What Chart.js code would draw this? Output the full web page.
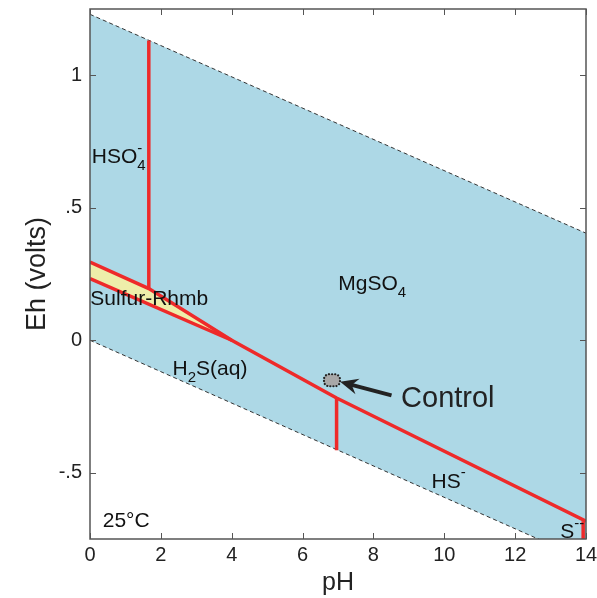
<!DOCTYPE html>
<html>
<head>
<meta charset="utf-8">
<script src="https://cdn.jsdelivr.net/npm/chart.js@4.4.1/dist/chart.umd.min.js"></script>
<style>
  html, body { margin: 0; padding: 0; background: #fff; }
  #wrap { width: 597px; height: 598px; }
</style>
</head>
<body>
<div id="wrap"><canvas id="chart"></canvas></div>
<script>
const FONT = '"Liberation Sans", Arial, Helvetica, sans-serif';
const RED = '#ee2a2a';

const xTicks = [0, 2, 4, 6, 8, 10, 12, 14];
const yTicks = [-0.5, 0, 0.5, 1];

// water stability limits (O2/H2O above, H2O/H2 below)
const waterPH = [0, 14];
const waterTopEh = [1.23, 0.404];
const waterBottomEh = [0, -0.83];

// sulfate reduction boundary: HSO4-/S, MgSO4/S, MgSO4/H2S, MgSO4/HS-
const sulfatePH = [0, 1.66, 4.0, 6.96, 14];
const sulfateEh = [0.295, 0.195, 0.0, -0.218, -0.683];

// lower edge of the rhombic sulfur field (S/H2S)
const sulfurPH = [0, 4.0];
const sulfurEh = [0.233, 0.0];

// HSO4- / MgSO4
const bisulfatePH = [1.66, 1.66];
const bisulfateEh = [1.131, 0.195];

// H2S(aq) / HS-
const sulfidePH = [6.96, 6.96];
const sulfideEh = [-0.218, -0.415];

// HS- / S--
const disulfidePH = [13.92, 13.92];
const disulfideEh = [-0.683, -0.76];

// control sample
const controlPH = [6.83];
const controlEh = [-0.151];

// field names, placed at (pH, Eh) of the text baseline start
const fieldLabels = [
    { parts: ['HSO', { sub: '4', sup: '-' }], pH: 0.05, eh: 0.668 },
    { parts: ['Sulfur-Rhmb'], pH: 0.01, eh: 0.132 },
    { parts: ['MgSO', { sub: '4' }], pH: 7.01, eh: 0.189 },
    { parts: ['H', { sub: '2' }, 'S(aq)'], pH: 2.33, eh: -0.132 },
    { parts: ['HS', { sup: '-' }], pH: 9.64, eh: -0.557 },
    { parts: ['S', { sup: '--' }], pH: 13.27, eh: -0.747 },
    { parts: ['25°C'], pH: 0.36, eh: -0.706 }
];

const pts = (xs, ys) => xs.map((x, i) => ({ x: x, y: ys[i] }));

// sulfur field outline: upper boundary out to the triple point, back along the lower one
const wedgePH = sulfatePH.slice(0, 3).concat(sulfurPH.slice(0, 1));
const wedgeEh = sulfateEh.slice(0, 3).concat(sulfurEh.slice(0, 1));

function redLine(label, xs, ys) {
    return { label: label, data: pts(xs, ys), borderColor: RED, borderWidth: 3.5, fill: false, order: 1 };
}

function drawRich(ctx, parts, x, y, size) {
    let cx = x;
    parts.forEach(p => {
        if (typeof p === 'string') {
            ctx.font = `${size}px ${FONT}`;
            ctx.fillText(p, cx, y);
            cx += ctx.measureText(p).width;
        } else {
            const small = Math.round(size * 0.72);
            ctx.font = `${small}px ${FONT}`;
            let w = 0;
            if (p.sub) {
                ctx.fillText(p.sub, cx, y + size * 0.33);
                w = ctx.measureText(p.sub).width;
            }
            if (p.sup) {
                ctx.fillText(p.sup, cx, y - size * 0.5);
                w = Math.max(w, ctx.measureText(p.sup).width);
            }
            cx += w;
        }
    });
}

// box with inward tick marks on all four sides
const frame = {
    id: 'frame',
    afterDatasetsDraw(chart) {
        const { ctx, chartArea: a, scales: { x, y } } = chart;
        ctx.save();
        ctx.strokeStyle = '#555';
        ctx.lineWidth = 1;
        ctx.beginPath();
        xTicks.forEach(v => {
            const px = Math.round(x.getPixelForValue(v)) + 0.5;
            ctx.moveTo(px, a.bottom); ctx.lineTo(px, a.bottom - 6);
            ctx.moveTo(px, a.top); ctx.lineTo(px, a.top + 6);
        });
        yTicks.forEach(v => {
            const py = Math.round(y.getPixelForValue(v)) + 0.5;
            ctx.moveTo(a.left, py); ctx.lineTo(a.left + 6, py);
            ctx.moveTo(a.right, py); ctx.lineTo(a.right - 6, py);
        });
        ctx.stroke();
        ctx.lineWidth = 1.5;
        ctx.strokeRect(a.left, a.top, a.width, a.height);
        ctx.restore();
    }
};

const annotations = {
    id: 'annotations',
    afterDatasetsDraw(chart) {
        const { ctx, scales: { x, y } } = chart;
        ctx.save();
        ctx.fillStyle = '#111';
        ctx.textBaseline = 'alphabetic';
        ctx.textAlign = 'left';
        fieldLabels.forEach(l => drawRich(ctx, l.parts, x.getPixelForValue(l.pH), y.getPixelForValue(l.eh), 21));

        // control sample marker
        const pt = chart.getDatasetMeta(0).data[0];
        const w = 16, h = 12;
        ctx.beginPath();
        ctx.roundRect(pt.x - w / 2, pt.y - h / 2, w, h, 5);
        ctx.fillStyle = '#a8a8a8';
        ctx.fill();
        ctx.setLineDash([0.1, 3]);
        ctx.lineCap = 'round';
        ctx.lineWidth = 2.2;
        ctx.strokeStyle = '#222';
        ctx.stroke();
        ctx.setLineDash([]);

        // arrow and caption
        const tx = x.getPixelForValue(8.51), ty = y.getPixelForValue(-0.208);
        const hx = x.getPixelForValue(7.06), hy = y.getPixelForValue(-0.157);
        const ang = Math.atan2(hy - ty, hx - tx);
        const len = 18, half = 8;
        const bx = hx - len * Math.cos(ang), by = hy - len * Math.sin(ang);
        ctx.strokeStyle = '#222';
        ctx.lineCap = 'butt';
        ctx.lineWidth = 4;
        ctx.beginPath();
        ctx.moveTo(tx, ty);
        ctx.lineTo(hx - 10 * Math.cos(ang), hy - 10 * Math.sin(ang));
        ctx.stroke();
        ctx.fillStyle = '#222';
        ctx.beginPath();
        ctx.moveTo(hx, hy);
        ctx.lineTo(bx - half * Math.sin(ang), by + half * Math.cos(ang));
        ctx.lineTo(hx - 12 * Math.cos(ang), hy - 12 * Math.sin(ang));
        ctx.lineTo(bx + half * Math.sin(ang), by - half * Math.cos(ang));
        ctx.closePath();
        ctx.fill();

        ctx.font = `29px ${FONT}`;
        ctx.fillText('Control', x.getPixelForValue(8.78), y.getPixelForValue(-0.252));
        ctx.restore();
    }
};

new Chart(document.getElementById('chart'), {
    type: 'line',
    data: {
        datasets: [
            { label: 'Control', data: pts(controlPH, controlEh), showLine: false, pointRadius: 0, order: 0 },
            redLine('HSO4-/MgSO4', bisulfatePH, bisulfateEh),
            redLine('H2S/HS-', sulfidePH, sulfideEh),
            redLine('HS-/S--', disulfidePH, disulfideEh),
            redLine('sulfate', sulfatePH, sulfateEh),
            redLine('sulfur', sulfurPH, sulfurEh),
            {
                label: 'Sulfur-Rhmb', data: pts(wedgePH, wedgeEh),
                borderColor: 'rgba(0,0,0,0)', borderWidth: 1,
                backgroundColor: '#eeeeaa', fill: 'shape', order: 2
            },
            {
                label: 'water low', data: pts(waterPH, waterBottomEh),
                borderColor: '#333', borderWidth: 1, borderDash: [4, 3], fill: false, order: 3
            },
            {
                label: 'water high', data: pts(waterPH, waterTopEh),
                borderColor: '#333', borderWidth: 1, borderDash: [4, 3],
                backgroundColor: '#add8e6', fill: '-1', order: 4
            }
        ]
    },
    options: {
        responsive: true,
        maintainAspectRatio: false,
        animation: false,
        layout: { padding: { top: 9, right: 11, left: 0, bottom: 0 } },
        elements: { point: { radius: 0 }, line: { tension: 0 } },
        plugins: {
            legend: { display: false },
            tooltip: { enabled: false },
            filler: { drawTime: 'beforeDatasetsDraw' }
        },
        scales: {
            x: {
                type: 'linear', min: 0, max: 14,
                afterBuildTicks: s => { s.ticks = xTicks.map(v => ({ value: v })); },
                afterFit: s => { s.height = 59; s.paddingLeft = 0; s.paddingRight = 0; },
                grid: { display: false, drawTicks: false },
                border: { display: false },
                ticks: { color: '#222', font: { size: 20, family: FONT }, padding: 4, maxRotation: 0 },
                title: { display: true, text: 'pH', color: '#222', font: { size: 25, family: FONT }, padding: 0 }
            },
            y: {
                type: 'linear', min: -0.75, max: 1.25,
                afterBuildTicks: s => { s.ticks = yTicks.map(v => ({ value: v })); },
                afterFit: s => { s.width = 90; s.paddingTop = 0; s.paddingBottom = 0; },
                grid: { display: false, drawTicks: false },
                border: { display: false },
                ticks: {
                    color: '#222', font: { size: 20, family: FONT }, padding: 8,
                    callback: v => v === 0 ? '0' : String(v).replace('0.', '.')
                },
                title: { display: true, text: 'Eh (volts)', color: '#222', font: { size: 27, family: FONT }, padding: { top: 21 } }
            }
        }
    },
    plugins: [frame, annotations]
});
</script>
</body>
</html>
